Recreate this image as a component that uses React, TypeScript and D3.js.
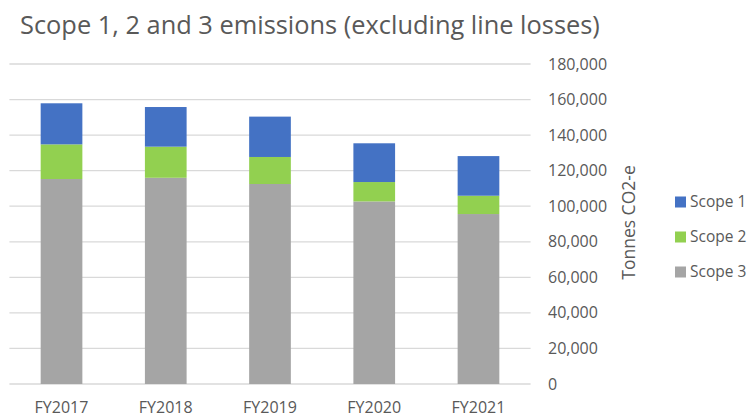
import React from "react";
import * as d3 from "d3";

const categories = ["FY2017", "FY2018", "FY2019", "FY2020", "FY2021"];
const scope1 = [23100, 22300, 22700, 21800, 22300];
const scope2 = [19500, 17500, 15200, 10900, 10300];
const scope3 = [115300, 116000, 112500, 102700, 95600];
const seriesNames = ["Scope 1", "Scope 2", "Scope 3"];
const yTicks = [0, 20000, 40000, 60000, 80000, 100000, 120000, 140000, 160000, 180000];

const W = 754;
const H = 416;
const FONT = "'Open Sans', 'Noto Sans', sans-serif";
const TEXT = "#595959";
const colors: Record<string, string> = { "Scope 1": "#4472C4", "Scope 2": "#92D050", "Scope 3": "#A5A5A5" };

export default function App() {
  const x = d3.scaleBand<string>().domain(categories).range([9.4, 530.6]).paddingInner(0.6).paddingOuter(0.3);
  const y = d3.scaleLinear().domain([0, 180000]).range([384, 64]);
  const rows = categories.map((c, i) => ({ cat: c, "Scope 3": scope3[i], "Scope 2": scope2[i], "Scope 1": scope1[i] }));
  const stack = d3.stack<any>().keys(["Scope 3", "Scope 2", "Scope 1"]);
  const layers = stack(rows);
  const fmt = d3.format(",");
  return (
    <svg width={W} height={H} style={{ position: "absolute", left: 0, top: 0, background: "#fff" }} fontFamily={FONT}>
      <rect width={W} height={H} fill="#fff" />
      <text x={20} y={34} fontSize={25.4} fill={TEXT}>Scope 1, 2 and 3 emissions (excluding line losses)</text>
      {yTicks.map((t) => (
        <g key={t}>
          <line x1={9.4} x2={530.6} y1={y(t)} y2={y(t)} stroke="#d9d9d9" strokeWidth={1.3} />
          <text x={548} y={y(t)} dy="0.35em" fontSize={16} fill={TEXT}>{fmt(t)}</text>
        </g>
      ))}
      {layers.map((layer) => (
        <g key={layer.key} fill={colors[layer.key]}>
          {layer.map((d, i) => (
            <rect key={i} x={x(categories[i])} width={x.bandwidth()} y={y(d[1])} height={y(d[0]) - y(d[1])} />
          ))}
        </g>
      ))}
      {categories.map((c) => (
        <text key={c} x={(x(c) as number) + x.bandwidth() / 2} y={412.5} textAnchor="middle" fontSize={16} fill={TEXT}>{c}</text>
      ))}
      <text transform={`translate(635,222.5) rotate(-90)`} textAnchor="middle" fontSize={17.5} fill={TEXT}>Tonnes CO2-e</text>
      {seriesNames.map((s, i) => (
        <g key={s} transform={`translate(675,${202 + i * 35})`}>
          <rect x={0} y={-5.5} width={11} height={11} fill={colors[s]} />
          <text x={15} y={0} dy="0.35em" fontSize={15.5} fill={TEXT}>{s}</text>
        </g>
      ))}
    </svg>
  );
}
